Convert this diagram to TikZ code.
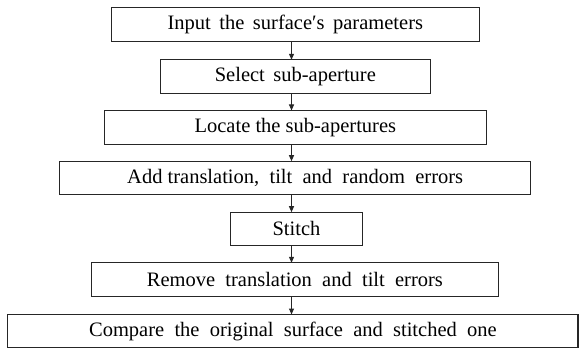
\documentclass[tikz,border=0pt]{standalone}
\usepackage{fontspec}
\setmainfont{Liberation Serif}
\usetikzlibrary{arrows.meta}
\newcommand{\wsp}{\hspace{8.5pt}}
\begin{document}
\begin{tikzpicture}[x=1pt,y=-1pt,
  stepbox/.style={draw=black!85,line width=1.1pt,inner sep=0pt,outer sep=0pt,
    font=\fontsize{20.5}{24}\selectfont,align=center},
  arr/.style={draw=black!85,line width=1pt,-{Triangle[length=6pt,width=5pt]}}]
\useasboundingbox (0,0) rectangle (580,350);
\node[stepbox,minimum width=368.3pt,minimum height=34pt] (b1) at (295.35,24.8) {Input\wsp the\wsp surface′s\wsp parameters};
\node[stepbox,minimum width=269.7pt,minimum height=34pt] (b2) at (295.35,76.8) {Select\wsp sub-aperture};
\node[stepbox,minimum width=382.3pt,minimum height=33.7pt] (b3) at (295.35,127.35) {Locate the sub-apertures};
\node[stepbox,minimum width=470.7pt,minimum height=33.3pt] (b4) at (295.15,177.85) {Add translation,\ \ tilt\ \ and\ \ random\ \ errors};
\node[stepbox,minimum width=132pt,minimum height=33.3pt] (b5) at (296.5,228.85) {Stitch};
\node[stepbox,minimum width=407.3pt,minimum height=34pt] (b6) at (294.85,279.8) {Remove\ \ translation\ \ and\ \ tilt\ \ errors};
\node[stepbox,minimum width=570.2pt,minimum height=33.3pt] (b7) at (292.9,331.15) {Compare\ \ the\ \ original\ \ surface\ \ and\ \ stitched\ \ one};
\coordinate (ax) at (291.5,0);
\draw[arr] (b1.south -| ax) -- (b2.north -| ax);
\draw[arr] (b2.south -| ax) -- (b3.north -| ax);
\draw[arr] (b3.south -| ax) -- (b4.north -| ax);
\draw[arr] (b4.south -| ax) -- (b5.north -| ax);
\draw[arr] (b5.south -| ax) -- (b6.north -| ax);
\draw[arr] (b6.south -| ax) -- (b7.north -| ax);
\end{tikzpicture}
\end{document}
